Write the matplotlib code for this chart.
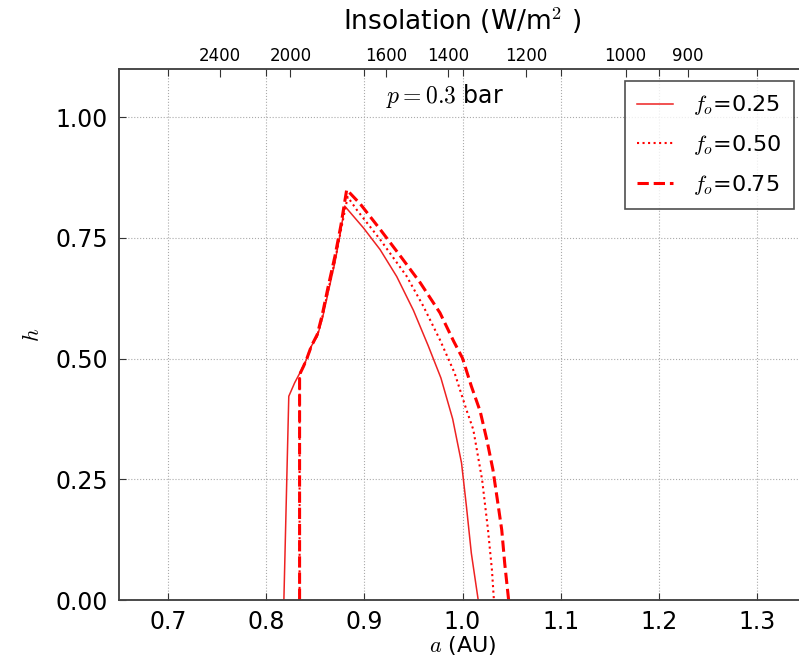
import numpy as np
import matplotlib
matplotlib.use("Agg")
import matplotlib.pyplot as plt

plt.rcParams["mathtext.fontset"] = "cm"
plt.rcParams["font.family"] = ["DejaVu Sans"]

# Habitable-fraction curves h(a) for three ocean fractions at p = 0.3 bar
a_025 = [0.818, 0.823, 0.829, 0.836, 0.841, 0.846, 0.852, 0.857, 0.863, 0.870,
         0.875, 0.880, 0.899, 0.916, 0.933, 0.950, 0.965, 0.978, 0.990, 0.999,
         1.004, 1.009, 1.016]
h_025 = [0.000, 0.422, 0.450, 0.477, 0.498, 0.526, 0.546, 0.581, 0.636, 0.699,
         0.754, 0.816, 0.771, 0.726, 0.670, 0.600, 0.527, 0.460, 0.375, 0.284,
         0.194, 0.097, 0.000]

a_050 = [0.834, 0.834, 0.838, 0.841, 0.846, 0.852, 0.857, 0.863, 0.870, 0.876,
         0.883, 0.892, 0.916, 0.943, 0.960, 0.977, 0.992, 1.004, 1.011, 1.020,
         1.026, 1.030, 1.032]
h_050 = [0.000, 0.467, 0.484, 0.498, 0.526, 0.548, 0.585, 0.640, 0.703, 0.765,
         0.835, 0.809, 0.747, 0.671, 0.609, 0.539, 0.470, 0.394, 0.353, 0.249,
         0.145, 0.062, 0.000]

a_075 = [0.834, 0.834, 0.838, 0.841, 0.846, 0.852, 0.857, 0.863, 0.870, 0.876,
         0.882, 0.896, 0.916, 0.938, 0.957, 0.977, 0.991, 1.000, 1.009, 1.018,
         1.025, 1.031, 1.036, 1.040, 1.043, 1.047]
h_075 = [0.000, 0.467, 0.484, 0.498, 0.526, 0.550, 0.590, 0.648, 0.712, 0.775,
         0.850, 0.820, 0.768, 0.709, 0.657, 0.595, 0.536, 0.501, 0.443, 0.391,
         0.330, 0.270, 0.201, 0.145, 0.076, 0.000]

labels = [r"$f_o$=0.25", r"$f_o$=0.50", r"$f_o$=0.75"]

# Top-axis insolation ticks (W/m^2); S = S0 / a^2
insolation_ticks = [2400, 2000, 1600, 1400, 1200, 1000, 900]
S0 = 1360.0

fig = plt.figure(figsize=(7.99, 6.61), dpi=100)
ax = fig.add_axes([119 / 799, 61 / 661, 687 / 799, 531 / 661])

ax.plot(a_025, h_025, color="#ee2222", lw=1.1, ls="-", label=labels[0])
ax.plot(a_050, h_050, color="red", lw=1.5, ls=":", label=labels[1])
ax.plot(a_075, h_075, color="red", lw=2.2, ls="--", label=labels[2])

ax.set_xlim(0.65, 1.35)
ax.set_ylim(0.0, 1.1)
ax.set_xticks([0.7, 0.8, 0.9, 1.0, 1.1, 1.2, 1.3])
ax.set_yticks([0.0, 0.25, 0.5, 0.75, 1.0])
ax.set_yticklabels(["0.00", "0.25", "0.50", "0.75", "1.00"])
ax.tick_params(direction="in", labelsize=17, length=5, right=True,
               color="#333333")
ax.tick_params(axis="x", pad=7)
ax.tick_params(axis="y", pad=8)
ax.grid(True, ls=":", color="#aaaaaa", lw=0.8)

ax.set_xlabel(r"$a$ (AU)", fontsize=16, labelpad=0)
ax.set_ylabel(r"$h$", fontsize=16, labelpad=9)

ax.text(0.922, 1.045, r"$p=0.3$ bar", fontsize=17, va="center", ha="left")

leg = ax.legend(loc="upper right", fontsize=16, fancybox=False,
                edgecolor="#222222", handlelength=1.6, handletextpad=0.9,
                borderpad=0.55, labelspacing=0.7, borderaxespad=0.55)
leg.get_frame().set_linewidth(1.2)

ax2 = ax.twiny()
ax2.set_xlim(ax.get_xlim())
ax2.set_xticks([np.sqrt(S0 / s) for s in insolation_ticks])
ax2.set_xticklabels([str(s) for s in insolation_ticks])
ax2.tick_params(direction="in", labelsize=12, length=6, pad=3,
                color="#333333")
ax2.set_xlabel(r"Insolation (W/m$^2$ )", fontsize=19, labelpad=12)
ax.tick_params(top=True)

for a_ in (ax, ax2):
    for sp in a_.spines.values():
        sp.set_color("#444444")
        sp.set_linewidth(1.1)

fig.savefig("out.png", dpi=100)
